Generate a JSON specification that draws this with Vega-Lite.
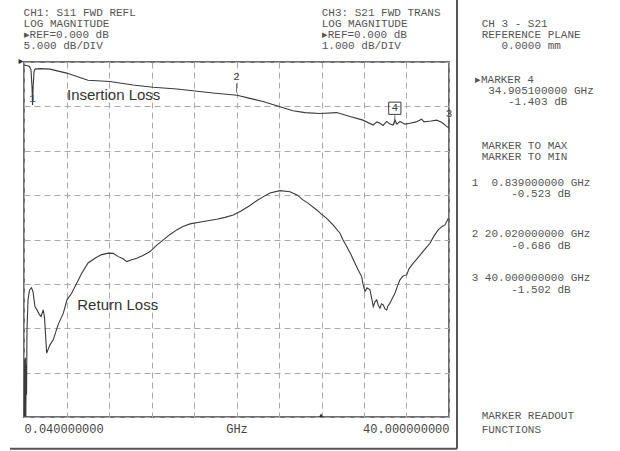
{
"$schema": "https://vega.github.io/schema/vega-lite/v6.json",
"width": 425, "height": 355,
"autosize": {"type": "none"},
"padding": {"left": 24, "top": 62, "right": 171, "bottom": 34},
"background": "#ffffff",
"config": {"view": {"stroke": "#6e6e6e", "strokeWidth": 2}},
"datasets": {
"s21": [
{"freq":0.04,"db":-0.07},{"freq":0.3,"db":-0.08},{"freq":0.55,"db":-0.1},{"freq":0.7,"db":-0.18},{"freq":0.8,"db":-0.6},{"freq":0.84,"db":-0.97},{"freq":0.9,"db":-0.55},{"freq":0.98,"db":-0.23},{"freq":1.07,"db":-0.16},{"freq":1.54,"db":-0.15},{"freq":2.48,"db":-0.16},{"freq":4.05,"db":-0.25},{"freq":6.06,"db":-0.41},{"freq":8.13,"db":-0.44},{"freq":10.29,"db":-0.52},{"freq":12.17,"db":-0.57},{"freq":14.43,"db":-0.61},{"freq":17.81,"db":-0.7},{"freq":20.07,"db":-0.75},{"freq":21.29,"db":-0.82},{"freq":22.51,"db":-0.89},{"freq":24.11,"db":-1.01},{"freq":25.33,"db":-1.1},{"freq":26.46,"db":-1.14},{"freq":27.87,"db":-1.16},{"freq":29.44,"db":-1.14},{"freq":30.7,"db":-1.23},{"freq":31.91,"db":-1.31},{"freq":32.86,"db":-1.42},{"freq":33.23,"db":-1.35},{"freq":33.51,"db":-1.38},{"freq":33.8,"db":-1.43},{"freq":34.14,"db":-1.34},{"freq":34.45,"db":-1.4},{"freq":34.74,"db":-1.42},{"freq":34.92,"db":-1.31},{"freq":35.11,"db":-1.4},{"freq":35.39,"db":-1.34},{"freq":35.86,"db":-1.4},{"freq":36.33,"db":-1.38},{"freq":36.9,"db":-1.35},{"freq":37.43,"db":-1.29},{"freq":37.65,"db":-1.35},{"freq":37.9,"db":-1.34},{"freq":38.31,"db":-1.33},{"freq":38.84,"db":-1.31},{"freq":39.25,"db":-1.35},{"freq":39.43,"db":-1.38},{"freq":39.72,"db":-1.44},{"freq":40.0,"db":-1.49}
],
"s11": [
{"freq":0.06,"db":-39.98},{"freq":0.1,"db":-33.56},{"freq":0.13,"db":-39.98},{"freq":0.17,"db":-33.33},{"freq":0.21,"db":-39.98},{"freq":0.25,"db":-34.12},{"freq":0.28,"db":-37.5},{"freq":0.32,"db":-30.18},{"freq":0.42,"db":-26.8},{"freq":0.56,"db":-25.68},{"freq":0.75,"db":-25.45},{"freq":0.89,"db":-25.9},{"freq":1.07,"db":-27.56},{"freq":1.26,"db":-27.93},{"freq":1.45,"db":-28.38},{"freq":1.64,"db":-28.68},{"freq":1.85,"db":-27.93},{"freq":1.97,"db":-28.83},{"freq":2.17,"db":-32.8},{"freq":2.48,"db":-31.87},{"freq":2.79,"db":-31.31},{"freq":3.24,"db":-29.62},{"freq":3.74,"db":-28.3},{"freq":4.08,"db":-26.8},{"freq":4.52,"db":-26.05},{"freq":5.47,"db":-23.8},{"freq":6.06,"db":-22.64},{"freq":6.72,"db":-22.11},{"freq":7.28,"db":-21.73},{"freq":7.97,"db":-21.54},{"freq":8.42,"db":-21.56},{"freq":8.91,"db":-21.93},{"freq":9.35,"db":-22.18},{"freq":9.7,"db":-22.49},{"freq":10.1,"db":-22.3},{"freq":10.64,"db":-22.11},{"freq":11.23,"db":-21.79},{"freq":11.89,"db":-21.36},{"freq":12.45,"db":-20.72},{"freq":13.14,"db":-20.05},{"freq":13.77,"db":-19.43},{"freq":14.4,"db":-18.92},{"freq":14.99,"db":-18.53},{"freq":15.65,"db":-18.24},{"freq":16.9,"db":-17.98},{"freq":18.16,"db":-17.71},{"freq":18.94,"db":-17.51},{"freq":19.72,"db":-17.23},{"freq":20.44,"db":-16.78},{"freq":21.29,"db":-16.16},{"freq":21.95,"db":-15.6},{"freq":22.51,"db":-15.2},{"freq":23.17,"db":-14.75},{"freq":24.11,"db":-14.49},{"freq":25.05,"db":-14.61},{"freq":25.71,"db":-14.98},{"freq":26.27,"db":-15.54},{"freq":26.84,"db":-15.99},{"freq":27.56,"db":-16.67},{"freq":27.97,"db":-17.12},{"freq":28.5,"db":-17.62},{"freq":29.1,"db":-18.36},{"freq":29.75,"db":-19.29},{"freq":30.04,"db":-20.05},{"freq":30.38,"db":-20.8},{"freq":30.79,"db":-21.73},{"freq":31.16,"db":-22.67},{"freq":31.45,"db":-23.42},{"freq":31.79,"db":-24.18},{"freq":31.91,"db":-25.0},{"freq":32.1,"db":-25.87},{"freq":32.29,"db":-25.45},{"freq":32.57,"db":-25.68},{"freq":32.76,"db":-26.8},{"freq":32.88,"db":-27.56},{"freq":33.04,"db":-27.03},{"freq":33.2,"db":-26.8},{"freq":33.37,"db":-27.48},{"freq":33.51,"db":-27.74},{"freq":33.65,"db":-27.25},{"freq":33.82,"db":-27.36},{"freq":33.98,"db":-27.82},{"freq":34.14,"db":-27.93},{"freq":34.26,"db":-27.48},{"freq":34.45,"db":-27.17},{"freq":34.69,"db":-26.58},{"freq":34.92,"db":-26.05},{"freq":35.16,"db":-25.23},{"freq":35.39,"db":-24.55},{"freq":35.68,"db":-24.1},{"freq":36.02,"db":-23.99},{"freq":36.24,"db":-23.31},{"freq":36.64,"db":-22.67},{"freq":36.99,"db":-22.18},{"freq":37.43,"db":-21.54},{"freq":37.84,"db":-20.95},{"freq":38.21,"db":-20.42},{"freq":38.59,"db":-19.59},{"freq":38.99,"db":-18.92},{"freq":39.29,"db":-18.58},{"freq":39.62,"db":-18.36},{"freq":39.94,"db":-17.6}
],
"markers": [
{"marker":"1","freq":0.839,"db":-0.523},
{"marker":"2","freq":20.02,"db":-0.686},
{"marker":"3","freq":40.0,"db":-1.502},
{"marker":"4","freq":34.9051,"db":-1.403}
]
},
"layer": [
{"layer": [
 {"data": {"name": "s21"},
  "mark": {"type": "line", "color": "#3a3a3a", "strokeWidth": 1.1},
  "encoding": {
   "x": {"field": "freq", "type": "quantitative", "title": null,
         "scale": {"domain": [0.04, 40], "nice": false, "zero": false},
         "axis": {"values": [0.04, 4.036, 8.032, 12.028, 16.024, 20.02, 24.016, 28.012, 32.008, 36.004, 40],
                  "grid": true, "gridDash": [6, 4], "gridColor": "#a8a8a8", "gridWidth": 1,
                  "domain": false, "ticks": false, "labelFlush": true, "labelOverlap": false,
                  "labelExpr": "datum.value == 0.04 ? '0.040000000' : (datum.value == 40 ? '40.000000000' : (datum.value == 20.02 ? 'GHz' : ''))",
                  "labelFont": "Liberation Mono", "labelFontSize": 12, "labelColor": "#444444", "labelPadding": 6}},
   "y": {"field": "db", "type": "quantitative", "title": null,
         "scale": {"domain": [-8, 0], "nice": false, "zero": false},
         "axis": {"values": [0, -1, -2, -3, -4, -5, -6, -7, -8], "grid": true, "gridDash": [6, 4], "gridColor": "#a8a8a8", "gridWidth": 1,
                  "domain": false, "ticks": false, "labels": false}}
  }},
 {"data": {"name": "markers"},
  "transform": [{"filter": "datum.marker != '1'"}],
  "mark": {"type": "point", "shape": "M0,0V-1", "size": 324, "filled": false, "stroke": "#3a3a3a", "strokeWidth": 1},
  "encoding": {"x": {"field": "freq", "type": "quantitative", "title": null}, "y": {"field": "db", "type": "quantitative", "title": null}}},
 {"data": {"name": "markers"},
  "transform": [{"filter": "datum.marker == '2' || datum.marker == '3'"}],
  "mark": {"type": "text", "font": "Liberation Mono", "fontSize": 11, "color": "#444444", "dy": -15, "baseline": "middle"},
  "encoding": {"x": {"field": "freq", "type": "quantitative", "title": null}, "y": {"field": "db", "type": "quantitative", "title": null}, "text": {"field": "marker"}}},
 {"data": {"name": "markers"},
  "transform": [{"filter": "datum.marker == '1'"}],
  "mark": {"type": "text", "font": "Liberation Mono", "fontSize": 11, "color": "#444444", "dy": 14, "baseline": "middle"},
  "encoding": {"x": {"field": "freq", "type": "quantitative", "title": null}, "y": {"field": "db", "type": "quantitative", "title": null}, "text": {"field": "marker"}}},
 {"data": {"name": "markers"},
  "transform": [{"filter": "datum.marker == '4'"}],
  "mark": {"type": "point", "shape": "square", "size": 150, "filled": false, "stroke": "#3a3a3a", "strokeWidth": 1, "yOffset": -16, "opacity": 1},
  "encoding": {"x": {"field": "freq", "type": "quantitative", "title": null}, "y": {"field": "db", "type": "quantitative", "title": null}}},
 {"data": {"name": "markers"},
  "transform": [{"filter": "datum.marker == '4'"}],
  "mark": {"type": "text", "font": "Liberation Mono", "fontSize": 11, "color": "#444444", "dy": -16, "baseline": "middle"},
  "encoding": {"x": {"field": "freq", "type": "quantitative", "title": null}, "y": {"field": "db", "type": "quantitative", "title": null}, "text": {"field": "marker"}}},
 {"data": {"values": [{"label": "Insertion Loss"}]},
  "mark": {"type": "text", "font": "Liberation Sans", "fontSize": 15, "color": "#333333", "align": "left", "baseline": "middle"},
  "encoding": {"x": {"datum": 4.08, "type": "quantitative"}, "y": {"datum": -0.743, "type": "quantitative"}, "text": {"field": "label"}}},
 {"data": {"values": [{"label": "Return Loss"}]},
  "mark": {"type": "text", "font": "Liberation Sans", "fontSize": 15, "color": "#333333", "align": "left", "baseline": "middle"},
  "encoding": {"x": {"datum": 5.05, "type": "quantitative"}, "y": {"datum": -5.484, "type": "quantitative"}, "text": {"field": "label"}}},
 {"data": {"values": [{"label": "CH1: S11 FWD REFL\nLOG MAGNITUDE\n▸REF=0.000 dB\n5.000 dB/DIV"}]},
  "mark": {"type": "text", "font": "Liberation Mono", "fontSize": 11, "color": "#555555", "align": "left", "baseline": "top", "lineBreak": "\n", "lineHeight": 11},
  "encoding": {"x": {"datum": 0.0, "type": "quantitative"}, "y": {"datum": 1.239, "type": "quantitative"}, "text": {"field": "label"}}},
 {"data": {"values": [{"label": "CH3: S21 FWD TRANS\nLOG MAGNITUDE\n▸REF=0.000 dB\n1.000 dB/DIV"}]},
  "mark": {"type": "text", "font": "Liberation Mono", "fontSize": 11, "color": "#555555", "align": "left", "baseline": "top", "lineBreak": "\n", "lineHeight": 11},
  "encoding": {"x": {"datum": 28.03, "type": "quantitative"}, "y": {"datum": 1.239, "type": "quantitative"}, "text": {"field": "label"}}},
 {"data": {"values": [{"label": "CH 3 - S21\nREFERENCE PLANE\n\u200b\u00a0\u00a0\u00a00.0000 mm"}]},
  "mark": {"type": "text", "font": "Liberation Mono", "fontSize": 11, "color": "#555555", "align": "left", "baseline": "top", "lineBreak": "\n", "lineHeight": 11},
  "encoding": {"x": {"datum": 43.07, "type": "quantitative"}, "y": {"datum": 0.998, "type": "quantitative"}, "text": {"field": "label"}}},
 {"data": {"values": [{"label": "▸MARKER 4\n\u200b\u00a0\u00a034.905100000 GHz\n\u200b\u00a0\u00a0\u00a0\u00a0\u00a0-1.403 dB"}]},
  "mark": {"type": "text", "font": "Liberation Mono", "fontSize": 11, "color": "#555555", "align": "left", "baseline": "top", "lineBreak": "\n", "lineHeight": 11},
  "encoding": {"x": {"datum": 42.44, "type": "quantitative"}, "y": {"datum": -0.264, "type": "quantitative"}, "text": {"field": "label"}}},
 {"data": {"values": [{"label": "MARKER TO MAX\nMARKER TO MIN"}]},
  "mark": {"type": "text", "font": "Liberation Mono", "fontSize": 11, "color": "#555555", "align": "left", "baseline": "top", "lineBreak": "\n", "lineHeight": 11},
  "encoding": {"x": {"datum": 43.07, "type": "quantitative"}, "y": {"datum": -1.761, "type": "quantitative"}, "text": {"field": "label"}}},
 {"data": {"values": [{"label": "1\u00a0\u00a00.839000000 GHz\n\u200b\u00a0\u00a0\u00a0\u00a0\u00a0\u00a0-0.523 dB"}]},
  "mark": {"type": "text", "font": "Liberation Mono", "fontSize": 11, "color": "#555555", "align": "left", "baseline": "top", "lineBreak": "\n", "lineHeight": 11},
  "encoding": {"x": {"datum": 42.13, "type": "quantitative"}, "y": {"datum": -2.599, "type": "quantitative"}, "text": {"field": "label"}}},
 {"data": {"values": [{"label": "2\u00a020.020000000 GHz\n\u200b\u00a0\u00a0\u00a0\u00a0\u00a0\u00a0-0.686 dB"}]},
  "mark": {"type": "text", "font": "Liberation Mono", "fontSize": 11, "color": "#555555", "align": "left", "baseline": "top", "lineBreak": "\n", "lineHeight": 12},
  "encoding": {"x": {"datum": 42.13, "type": "quantitative"}, "y": {"datum": -3.732, "type": "quantitative"}, "text": {"field": "label"}}},
 {"data": {"values": [{"label": "3\u00a040.000000000 GHz\n\u200b\u00a0\u00a0\u00a0\u00a0\u00a0\u00a0-1.502 dB"}]},
  "mark": {"type": "text", "font": "Liberation Mono", "fontSize": 11, "color": "#555555", "align": "left", "baseline": "top", "lineBreak": "\n", "lineHeight": 12},
  "encoding": {"x": {"datum": 42.13, "type": "quantitative"}, "y": {"datum": -4.723, "type": "quantitative"}, "text": {"field": "label"}}},
 {"data": {"values": [{"label": "MARKER READOUT\nFUNCTIONS"}]},
  "mark": {"type": "text", "font": "Liberation Mono", "fontSize": 11, "color": "#555555", "align": "left", "baseline": "top", "lineBreak": "\n", "lineHeight": 14},
  "encoding": {"x": {"datum": 43.07, "type": "quantitative"}, "y": {"datum": -7.831, "type": "quantitative"}, "text": {"field": "label"}}},
 {"data": {"values": [{"label": "▸"}]},
  "mark": {"type": "text", "font": "DejaVu Sans", "fontSize": 10, "color": "#333333", "align": "right", "baseline": "middle"},
  "encoding": {"x": {"datum": 0.0, "type": "quantitative"}, "y": {"datum": 0.02, "type": "quantitative"}, "text": {"field": "label"}}},
 {"data": {"values": [{"m": "ref"}]},
  "mark": {"type": "point", "shape": "triangle-up", "size": 18, "filled": true, "color": "#333333", "opacity": 1},
  "encoding": {"x": {"datum": 27.97, "type": "quantitative"}, "y": {"datum": -7.96, "type": "quantitative"}}},
 {"data": {"values": [{"f": "frame"}]},
  "mark": {"type": "rule", "color": "#555555", "strokeWidth": 2},
  "encoding": {"x": {"datum": 40.753, "type": "quantitative"}, "y": {"datum": 1.396, "type": "quantitative"}, "y2": {"datum": -8.716}}},
 {"data": {"values": [{"f": "frame"}]},
  "mark": {"type": "rule", "color": "#555555", "strokeWidth": 2},
  "encoding": {"x": {"datum": -1.276, "type": "quantitative"}, "x2": {"datum": 40.753}, "y": {"datum": -8.716, "type": "quantitative"}}}
]},
{"data": {"name": "s11"},
 "mark": {"type": "line", "color": "#3a3a3a", "strokeWidth": 1.1},
 "encoding": {
  "x": {"field": "freq", "type": "quantitative", "title": null},
  "y": {"field": "db", "type": "quantitative", "title": null, "scale": {"domain": [-40, 0], "nice": false, "zero": false}, "axis": null}
 }}
],
"resolve": {"scale": {"y": "independent"}}
}
